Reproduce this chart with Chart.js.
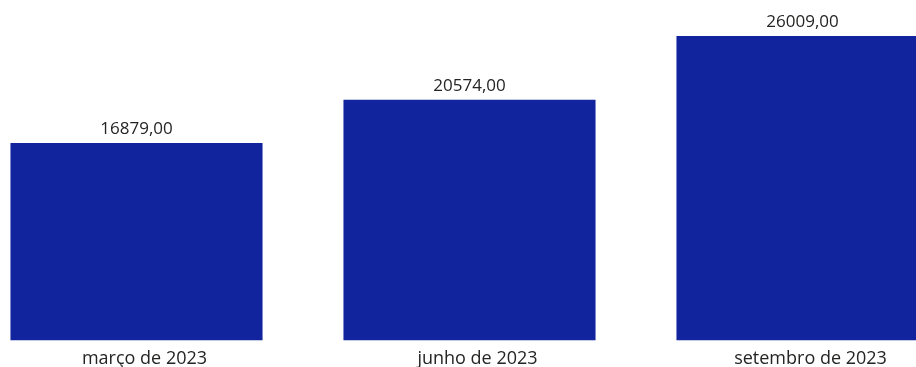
<!DOCTYPE html>
<html>
<head>
<meta charset="utf-8">
<script src="https://cdn.jsdelivr.net/npm/chart.js@4.4.0/dist/chart.umd.min.js"></script>
<style>
  html, body { margin: 0; padding: 0; background: #ffffff; overflow: hidden; }
  body { width: 916px; height: 367px; position: relative; }
  #wrap { position: absolute; left: -30px; top: 0; width: 999px; height: 378px; }
</style>
</head>
<body>
<div id="wrap"><canvas id="c"></canvas></div>
<script>
const categories = ["março de 2023", "junho de 2023", "setembro de 2023"];
const values = [16879, 20574, 26009];
const barColor = "#12239E";
const textColor = "#252423";
const FONT = "'Segoe UI', 'Open Sans', 'Noto Sans', sans-serif";

const valueLabels = {
  id: 'valueLabels',
  afterDatasetsDraw(chart) {
    const ctx = chart.ctx;
    const meta = chart.getDatasetMeta(0);
    ctx.save();
    ctx.font = "17px " + FONT;
    ctx.fillStyle = textColor;
    ctx.textAlign = 'center';
    ctx.textBaseline = 'alphabetic';
    meta.data.forEach((bar, i) => {
      const txt = values[i].toFixed(2).replace('.', ',');
      ctx.fillText(txt, bar.x, bar.y - 9);
    });
    ctx.restore();
  }
};

new Chart(document.getElementById('c'), {
  type: 'bar',
  data: {
    labels: categories,
    datasets: [{
      data: values,
      backgroundColor: barColor,
      borderWidth: 0,
      barPercentage: 0.757,
      categoryPercentage: 1.0
    }]
  },
  options: {
    responsive: true,
    maintainAspectRatio: false,
    animation: false,
    layout: { padding: 0 },
    plugins: { legend: { display: false }, tooltip: { enabled: false } },
    scales: {
      x: {
        grid: { display: false, drawTicks: false },
        border: { display: false },
        ticks: {
          color: textColor,
          font: { family: FONT, size: 18 },
          padding: 8,
          labelOffset: 8,
          maxRotation: 0
        }
      },
      y: {
        display: false,
        min: 0,
        max: 29090
      }
    }
  },
  plugins: [valueLabels]
});
</script>
</body>
</html>
